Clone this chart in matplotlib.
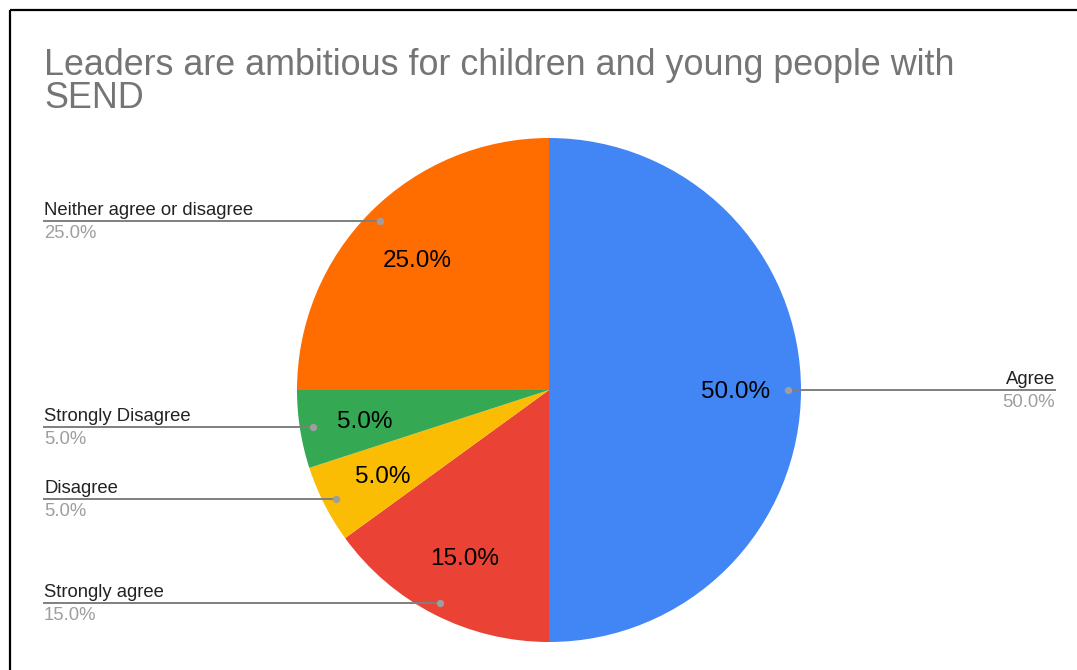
import numpy as np
import matplotlib
matplotlib.use("Agg")
import matplotlib.pyplot as plt

# Survey responses, in drawing order (clockwise from 12 o'clock)
categories = ["Agree", "Strongly agree", "Disagree", "Strongly Disagree",
              "Neither agree or disagree"]
shares = [50.0, 15.0, 5.0, 5.0, 25.0]
colors = ["#4285F4", "#EA4335", "#FBBC04", "#34A853", "#FF6D01"]
title = "Leaders are ambitious for children and young people with\nSEND"

W, H = 1077, 670
CX, CY, R = 549, H - 390, 252

plt.rcParams["font.family"] = ["Liberation Sans", "DejaVu Sans"]

fig = plt.figure(figsize=(W / 100, H / 100), dpi=100)
ax = fig.add_axes([0, 0, 1, 1])

wedges, texts, autotexts = ax.pie(
    shares, colors=colors, startangle=90, counterclock=False,
    center=(CX, CY), radius=R, autopct="%1.1f%%", pctdistance=0.74,
    textprops=dict(fontsize=17.5, color="black"),
    wedgeprops=dict(linewidth=0),
)
# nudge the percentages so the digits sit centred on their anchor
for t in autotexts:
    x, y = t.get_position()
    t.set_position((x, y - 2.5))

# pie() resets the limits around its centre, so set them afterwards
ax.set_xlim(0, W)
ax.set_ylim(0, H)
ax.set_aspect("equal")
ax.axis("off")

# Leader lines with outside labels
for w, name, val in zip(wedges, categories, shares):
    mid = np.deg2rad((w.theta1 + w.theta2) / 2)
    px = CX + 0.95 * R * np.cos(mid)
    py = CY + 0.95 * R * np.sin(mid)
    if px > CX:
        end_x, ha = 1055, "right"
    else:
        end_x, ha = 44, "left"
    ax.plot([px, end_x], [py, py], color="#7f7f7f", lw=1.4, zorder=3)
    ax.scatter([px], [py], s=28, color="#9e9e9e", zorder=4, linewidths=0)
    ax.text(end_x, py + 6, name, ha=ha, va="baseline", fontsize=13.3,
            color="#222222")
    ax.text(end_x, py - 17, f"{val:.1f}%", ha=ha, va="baseline",
            fontsize=13.3, color="#9e9e9e")

# baseline alignment here follows the last line of the title
ax.text(44, H - 108, title, ha="left", va="baseline", fontsize=25.8,
        color="#757575", linespacing=0.92)

# Frame on the top and left edges
ax.plot([10, W], [H - 10, H - 10], color="black", lw=1.6,
        solid_capstyle="butt")
ax.plot([10, 10], [H - 10, 0], color="black", lw=1.6,
        solid_capstyle="butt")

fig.savefig("out.png", dpi=100)
